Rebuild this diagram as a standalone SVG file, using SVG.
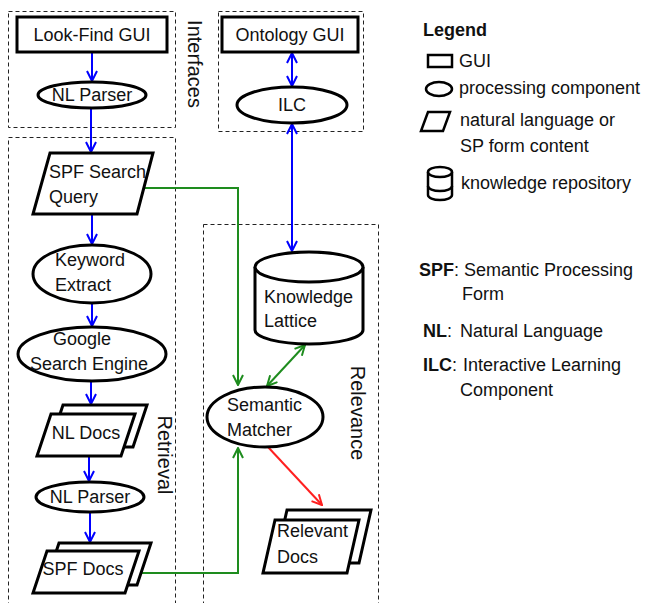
<svg xmlns="http://www.w3.org/2000/svg" width="655" height="603" viewBox="0 0 655 603">
<style>
text{font-family:"Liberation Sans",Arial,sans-serif;font-size:18px;fill:#111;}
.c{text-anchor:middle;dominant-baseline:central;}
.l{dominant-baseline:central;}
.b{font-weight:bold;}
.vt{font-size:20px;text-anchor:middle;dominant-baseline:central;}
.shape{fill:#fff;stroke:#000;stroke-width:3;}
.lg{fill:#fff;stroke:#000;stroke-width:2.5;}
.box{fill:none;stroke:#222;stroke-width:1;stroke-dasharray:4 3;}
.blue{fill:none;stroke:#0000ff;stroke-width:2;}
.green{fill:none;stroke:#1e8c1e;stroke-width:2;}
.red{fill:none;stroke:#ff2020;stroke-width:2;}
</style>
<defs>
<marker id="ab" viewBox="0 0 12 12" refX="11" refY="6" markerWidth="12" markerHeight="12" markerUnits="userSpaceOnUse" orient="auto-start-reverse"><path d="M1,1 L11,6 L1,11" fill="none" stroke="#0000ff" stroke-width="2"/></marker>
<marker id="ag" viewBox="0 0 12 12" refX="11" refY="6" markerWidth="12" markerHeight="12" markerUnits="userSpaceOnUse" orient="auto-start-reverse"><path d="M1,1 L11,6 L1,11" fill="none" stroke="#1e8c1e" stroke-width="2"/></marker>
<marker id="ar" viewBox="0 0 12 12" refX="11" refY="6" markerWidth="12" markerHeight="12" markerUnits="userSpaceOnUse" orient="auto-start-reverse"><path d="M1,1 L11,6 L1,11" fill="none" stroke="#ff2020" stroke-width="2"/></marker>
</defs>

<g id="groups">
<rect class="box" x="8.5" y="11.5" width="167" height="116"/>
<rect class="box" x="8.5" y="137.5" width="167" height="470"/>
<rect class="box" x="218.5" y="11.5" width="145" height="120"/>
<rect class="box" x="203.5" y="224.5" width="175" height="390"/>
<text class="vt" transform="translate(195,64) rotate(90)">Interfaces</text>
<text class="vt" transform="translate(165,455) rotate(90)">Retrieval</text>
<text class="vt" transform="translate(358,413) rotate(90)">Relevance</text>
</g>

<g id="connectors">
<path class="blue" d="M92,52 L92,81" marker-end="url(#ab)"/>
<path class="blue" d="M91,109 L91,152" marker-end="url(#ab)"/>
<path class="blue" d="M92,215 L92,244" marker-end="url(#ab)"/>
<path class="blue" d="M92,303 L92,326" marker-end="url(#ab)"/>
<path class="blue" d="M91,381 L91,404" marker-end="url(#ab)"/>
<path class="blue" d="M89,456 L89,481" marker-end="url(#ab)"/>
<path class="blue" d="M90,512 L90,542" marker-end="url(#ab)"/>
<path class="blue" d="M292,53 L292,86" marker-start="url(#ab)" marker-end="url(#ab)"/>
<path class="blue" d="M292,124 L292,251" marker-start="url(#ab)" marker-end="url(#ab)"/>
<path class="green" d="M145,188 L238,188 L238,385" marker-end="url(#ag)"/>
<path class="green" d="M135,573 L238,573 L238,448" marker-end="url(#ag)"/>
<path class="green" d="M305,345 L267,386" marker-start="url(#ag)" marker-end="url(#ag)"/>
<path class="red" d="M268,447 L322,505" marker-end="url(#ar)"/>
</g>

<g id="look-find-gui">
<rect class="shape" x="17" y="17" width="150" height="35"/>
<text class="c" x="92" y="35">Look-Find GUI</text>
</g>
<g id="nl-parser-1">
<ellipse class="shape" cx="92" cy="95" rx="54" ry="13"/>
<text class="c" x="92" y="95">NL Parser</text>
</g>
<g id="spf-search-query">
<polygon class="shape" points="50,153 153,153 137,214 33,214"/>
<text class="l" x="49" y="172">SPF Search</text>
<text class="l" x="49" y="197">Query</text>
</g>
<g id="keyword-extract">
<ellipse class="shape" cx="92" cy="274" rx="59" ry="29"/>
<text class="l" x="55" y="260">Keyword</text>
<text class="l" x="55" y="285">Extract</text>
</g>
<g id="google-search-engine">
<ellipse class="shape" cx="92" cy="354" rx="74" ry="27"/>
<text class="l" x="53" y="339">Google</text>
<text class="l" x="30" y="364">Search Engine</text>
</g>
<g id="nl-docs">
<polygon class="shape" points="63,405 147,405 133,447 49,447"/>
<polygon class="shape" points="51,414 135,414 121,456 37,456"/>
<text class="c" x="86" y="433">NL Docs</text>
</g>
<g id="nl-parser-2">
<ellipse class="shape" cx="90" cy="497" rx="54" ry="15"/>
<text class="c" x="90" y="497">NL Parser</text>
</g>
<g id="spf-docs">
<polygon class="shape" points="59,543 151,543 137,585 45,585"/>
<polygon class="shape" points="47,551 139,551 125,593 33,593"/>
<text class="c" x="83" y="569">SPF Docs</text>
</g>
<g id="ontology-gui">
<rect class="shape" x="222" y="17" width="136" height="35"/>
<text class="c" x="290" y="35">Ontology GUI</text>
</g>
<g id="ilc">
<ellipse class="shape" cx="292" cy="105" rx="55" ry="18"/>
<text class="c" x="292" y="105">ILC</text>
</g>
<g id="knowledge-lattice">
<path class="shape" d="M255,267 L255,330 A54,14 0 0 0 363,330 L363,267"/>
<ellipse class="shape" cx="309" cy="267" rx="54" ry="15"/>
<text class="l" x="264" y="297">Knowledge</text>
<text class="l" x="264" y="321">Lattice</text>
</g>
<g id="semantic-matcher">
<ellipse class="shape" cx="265" cy="417" rx="58" ry="30"/>
<text class="l" x="227" y="405">Semantic</text>
<text class="l" x="227" y="430">Matcher</text>
</g>
<g id="relevant-docs">
<polygon class="shape" points="287,510 371,510 359,563 275,563"/>
<polygon class="shape" points="275,520 359,520 347,573 263,573"/>
<text class="l" x="277" y="531">Relevant</text>
<text class="l" x="277" y="557">Docs</text>
</g>

<g id="legend">
<text class="l b" x="423" y="30">Legend</text>
<rect class="lg" x="428" y="55" width="24" height="12"/>
<text class="l" x="459" y="61">GUI</text>
<ellipse class="lg" cx="439" cy="89" rx="13" ry="7"/>
<text class="l" x="459" y="88">processing component</text>
<polygon class="lg" points="428,112 450,112 443,131 421,131"/>
<text class="l" x="460" y="120">natural language or</text>
<text class="l" x="460" y="146">SP form content</text>
<path class="lg" d="M428,172 L428,195 A12,5 0 0 0 452,195 L452,172"/>
<ellipse class="lg" cx="440" cy="172" rx="12" ry="5"/>
<path d="M428,186 A12,5 0 0 0 452,186" fill="none" stroke="#000" stroke-width="2.5"/>
<text class="l" x="461" y="183">knowledge repository</text>
</g>

<g id="abbreviations">
<text class="l" x="419" y="270"><tspan class="b">SPF</tspan>: Semantic Processing</text>
<text class="l" x="462" y="294">Form</text>
<text class="l" x="423" y="331"><tspan class="b">NL</tspan>:<tspan x="460">Natural Language</tspan></text>
<text class="l" x="423" y="365"><tspan class="b">ILC</tspan>:<tspan x="463">Interactive Learning</tspan></text>
<text class="l" x="460" y="390">Component</text>
</g>
</svg>
